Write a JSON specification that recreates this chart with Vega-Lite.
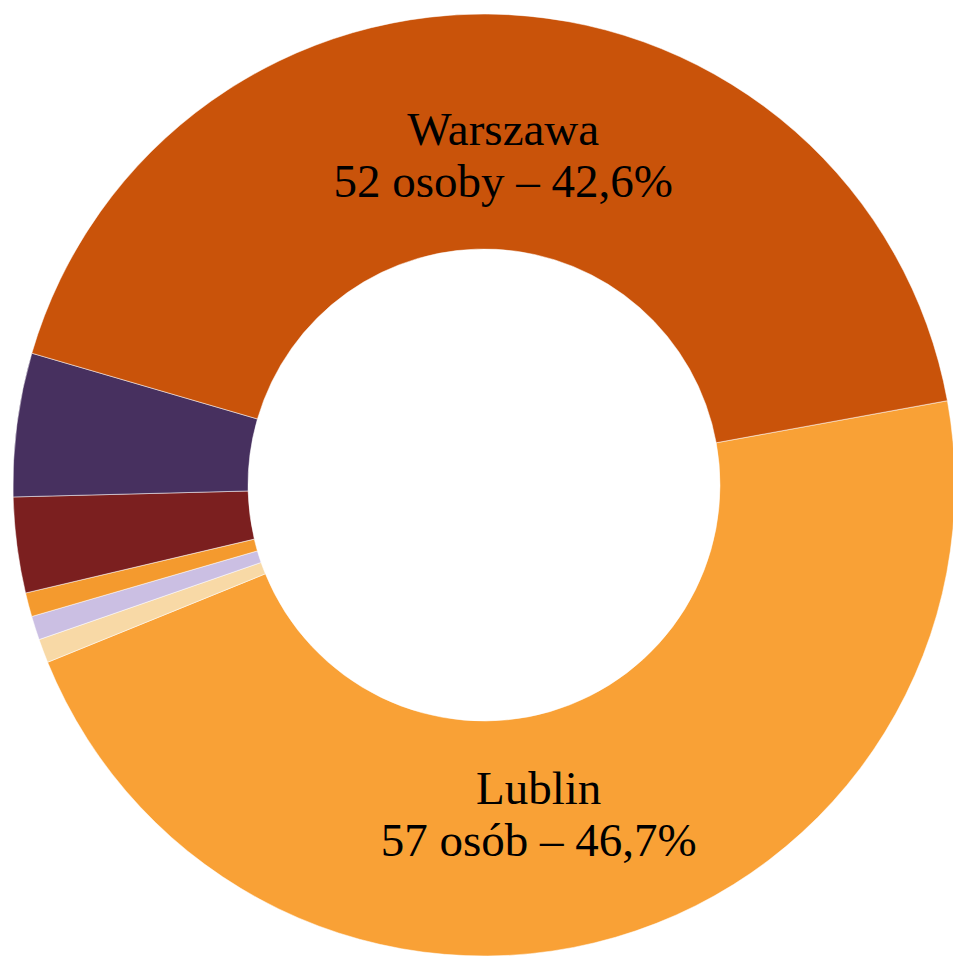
{
  "$schema": "https://vega.github.io/schema/vega-lite/v6.json",
  "width": 968,
  "height": 970,
  "padding": 0,
  "autosize": {"type": "none"},
  "background": "white",
  "data": {
    "values": [
      {"miasto": "Lublin", "osoby": 57, "kolejnosc": 1, "label": ["Lublin", "57 osób – 46,7%"]},
      {"miasto": "Inne A", "osoby": 1, "kolejnosc": 2, "label": ""},
      {"miasto": "Inne B", "osoby": 1, "kolejnosc": 3, "label": ""},
      {"miasto": "Inne C", "osoby": 1, "kolejnosc": 4, "label": ""},
      {"miasto": "Inne D", "osoby": 4, "kolejnosc": 5, "label": ""},
      {"miasto": "Inne E", "osoby": 6, "kolejnosc": 6, "label": ""},
      {"miasto": "Warszawa", "osoby": 52, "kolejnosc": 7, "label": ["Warszawa", "52 osoby – 42,6%"]}
    ]
  },
  "encoding": {
    "theta": {"field": "osoby", "type": "quantitative", "stack": true, "scale": {"range": [1.391, 7.674]}},
    "order": {"field": "kolejnosc", "type": "quantitative"}
  },
  "layer": [
    {
      "mark": {"type": "arc", "innerRadius": 236, "outerRadius": 471, "stroke": "#ffffff", "strokeWidth": 1, "strokeOpacity": 0.5},
      "encoding": {
        "color": {
          "field": "miasto",
          "type": "nominal",
          "legend": null,
          "scale": {
            "domain": ["Lublin", "Inne A", "Inne B", "Inne C", "Inne D", "Inne E", "Warszawa"],
            "range": ["#f9a136", "#f8d9a6", "#cbbfe3", "#f49a2e", "#7b1f1f", "#47305f", "#c9530a"]
          }
        }
      }
    },
    {
      "mark": {"type": "text", "radius": 332, "font": "Liberation Serif", "fontSize": 47, "lineHeight": 52, "color": "#000000", "dx": 2, "dy": -22},
      "encoding": {"text": {"condition": {"test": "datum.miasto == 'Warszawa'", "field": "label"}, "value": ""}}
    },
    {
      "mark": {"type": "text", "radius": 332, "font": "Liberation Serif", "fontSize": 47, "lineHeight": 52, "color": "#000000", "dx": -38, "dy": -14},
      "encoding": {"text": {"condition": {"test": "datum.miasto == 'Lublin'", "field": "label"}, "value": ""}}
    }
  ]
}
